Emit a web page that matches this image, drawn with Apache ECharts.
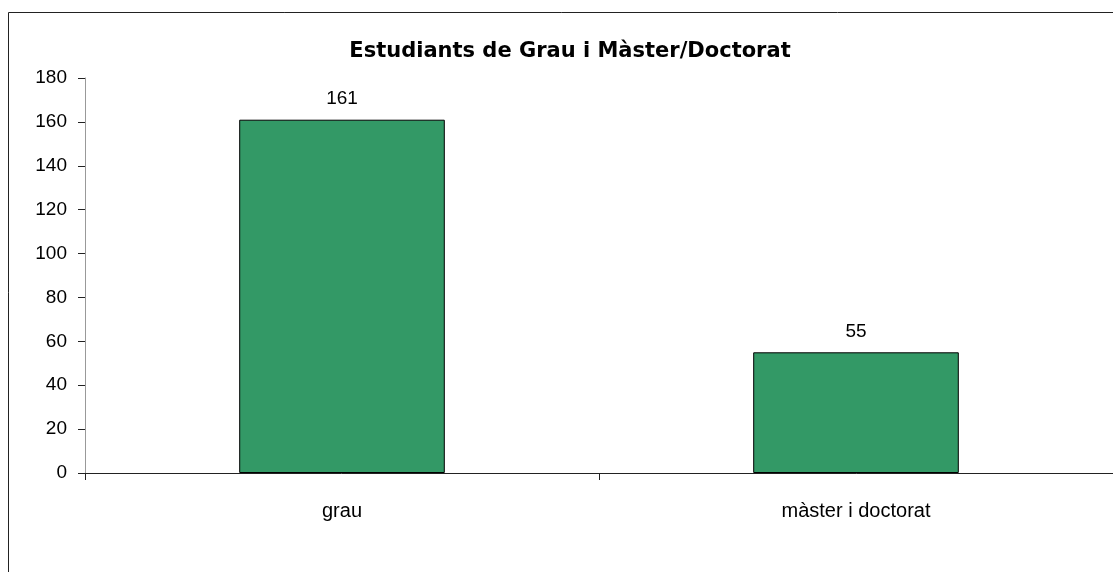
<!DOCTYPE html>
<html>
<head>
<meta charset="utf-8">
<script src="https://cdn.jsdelivr.net/npm/echarts@6/dist/echarts.min.js"></script>
<style>
html,body{margin:0;padding:0;background:#fff;}
#chart{width:1113px;height:572px;}
</style>
</head>
<body>
<div id="chart"></div>
<script>
const titleText = 'Estudiants de Grau i Màster/Doctorat';
const categories = ['grau', 'màster i doctorat'];
const values = [161, 55];
const yMin = 0, yMax = 180, yStep = 20;

const labelFont = 'Liberation Sans, Arial, sans-serif';
const chart = echarts.init(document.getElementById('chart'), null, {renderer: 'canvas'});
chart.setOption({
  animation: false,
  backgroundColor: '#fff',
  title: {
    text: titleText,
    left: 570,
    textAlign: 'center',
    top: 41,
    padding: 0,
    textStyle: {fontFamily: 'DejaVu Sans', fontSize: 21, fontWeight: 'bold', color: '#000'}
  },
  graphic: [{
    type: 'rect',
    shape: {x: 8.5, y: 12.5, width: 1200, height: 700},
    style: {fill: 'none', stroke: '#222', lineWidth: 1},
    silent: true
  }],
  grid: {left: 85, top: 78, width: 1034, height: 395, containLabel: false},
  xAxis: {
    type: 'category',
    data: categories,
    axisLine: {lineStyle: {color: '#222', width: 1}},
    axisTick: {show: true, length: 7, lineStyle: {color: '#222'}},
    axisLabel: {margin: 28, fontFamily: labelFont, fontSize: 20, color: '#000'},
    splitLine: {show: false}
  },
  yAxis: {
    type: 'value',
    min: yMin, max: yMax, interval: yStep,
    axisLine: {show: true, lineStyle: {color: '#999', width: 1}},
    axisTick: {show: true, length: 7, lineStyle: {color: '#222'}},
    axisLabel: {margin: 18, fontFamily: labelFont, fontSize: 19, color: '#000'},
    splitLine: {show: false}
  },
  series: [{
    type: 'bar',
    data: values,
    barWidth: '40%',
    itemStyle: {color: '#339966', borderColor: '#000', borderWidth: 1},
    label: {show: true, position: 'top', distance: 11, fontFamily: labelFont, fontSize: 19, color: '#000'}
  }]
});
</script>
</body>
</html>
